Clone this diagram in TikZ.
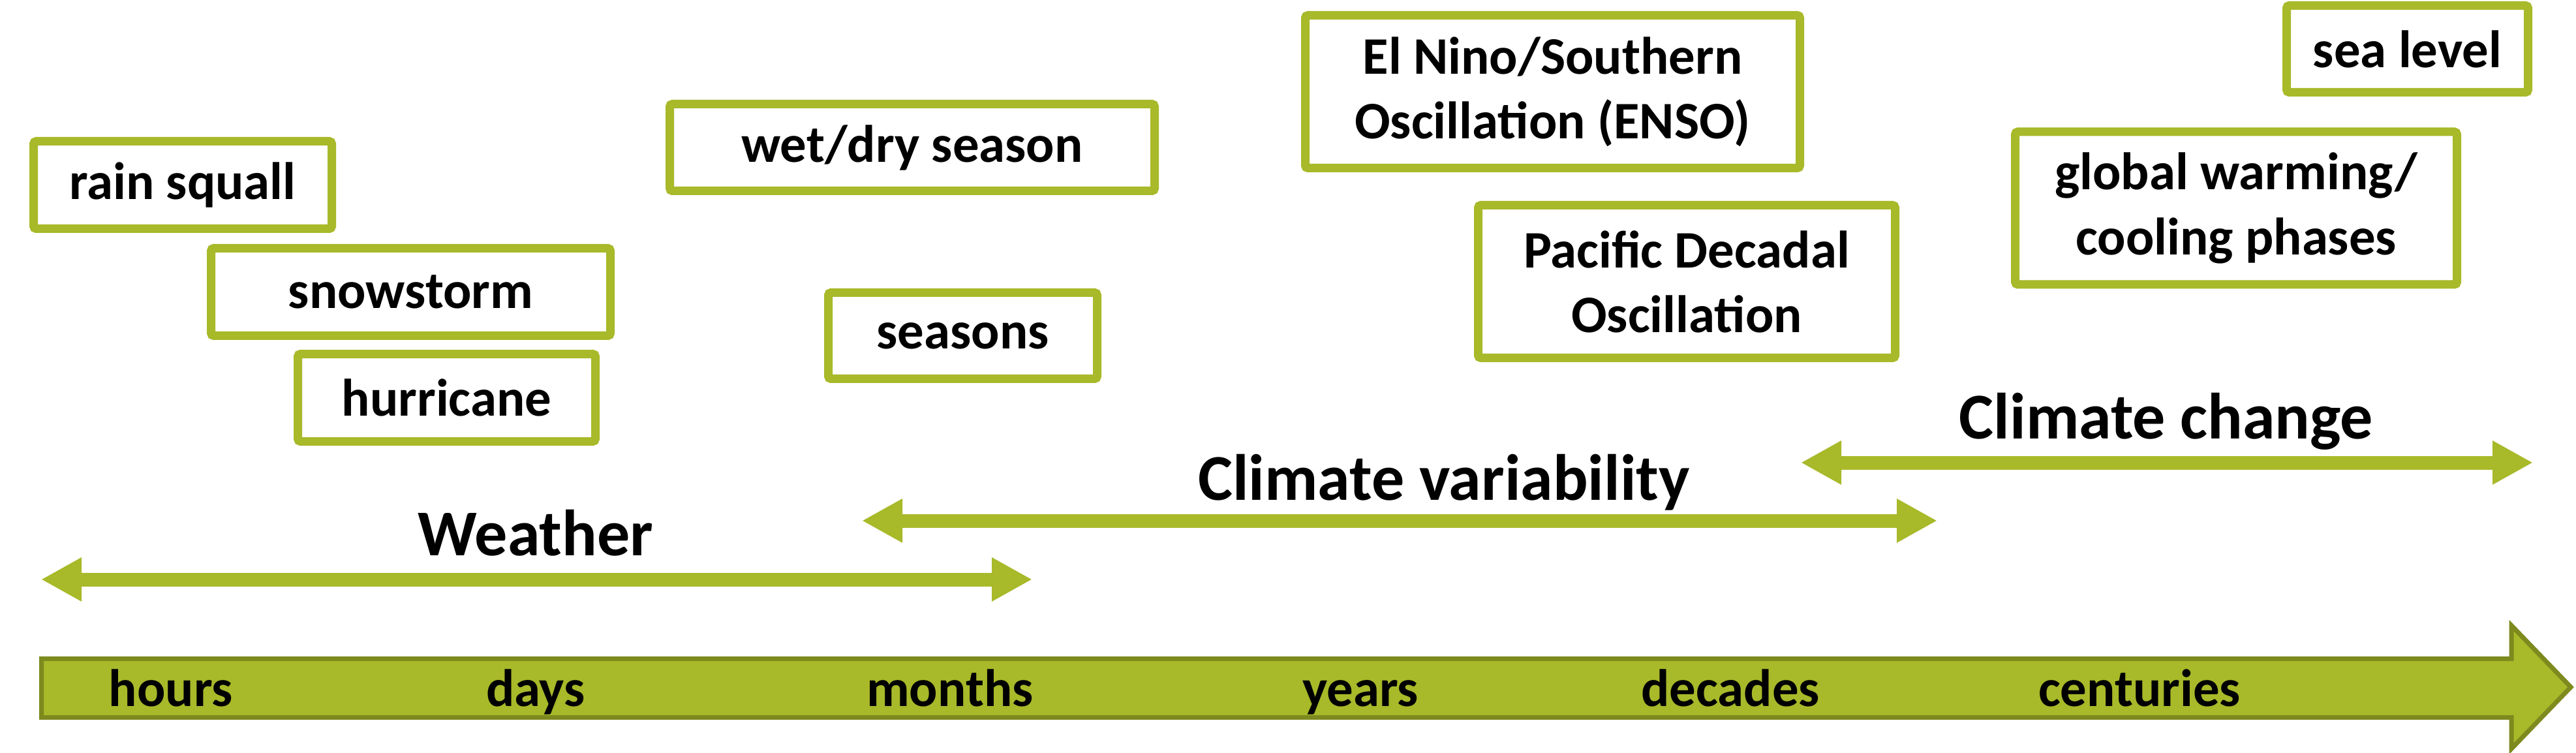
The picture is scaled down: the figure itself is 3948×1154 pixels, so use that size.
\documentclass[tikz,border=0pt]{standalone}
\usepackage{fontspec}
\setmainfont{Carlito}
\usepackage{tikz}
\usetikzlibrary{arrows.meta, positioning}
\definecolor{leaf}{RGB}{168,185,41}
\definecolor{leafdark}{RGB}{125,138,30}

\begin{document}
\begin{tikzpicture}[
    x=0.1mm, y=-0.1mm,
    font=\bfseries\fontsize{23}{28.2}\selectfont,
    every node/.style={align=center},
    ev/.style   ={rectangle, rounded corners=0.4mm, draw=leaf, line width=1.3mm,
                  fill=white, inner sep=0pt, minimum height=13.4mm},
    evtall/.style={ev, minimum height=23.4mm},
    head/.style ={font=\bfseries\fontsize{28.5}{34}\selectfont, anchor=base},
    tick/.style ={anchor=base},
    span/.style ={<->, >={Triangle[length=6.2mm, width=6.3mm]},
                  line width=2.1mm, draw=leaf}
]
\useasboundingbox (0,0) rectangle (3948,1154);

% Time axis
\draw[fill=leaf, draw=leafdark, line width=0.7mm]
    (63.5,1009.5) -- (3849,1009.5) -- (3849,958.5) -- (3940,1053)
    -- (3849,1147.5) -- (3849,1099.5) -- (63.5,1099.5) -- cycle;
\node[tick] (hours)     at (262,1082)  {hours};
\node[tick] (days)      at (821,1082)  {days};
\node[tick] (months)    at (1456,1082) {months};
\node[tick] (years)     at (2085,1082) {years};
\node[tick] (decades)   at (2652,1082) {decades};
\node[tick] (centuries) at (3279,1082) {centuries};

% Ranges
\coordinate (wL) at (63,888);    \coordinate (wR) at (1582,888);
\coordinate (vL) at (1321,798);  \coordinate (vR) at (2969,798);
\coordinate (cL) at (2760,709);  \coordinate (cR) at (3882,709);
\draw[span] (wL) -- (wR);
\draw[span] (vL) -- (vR);
\draw[span] (cL) -- (cR);
\node[head] (weather)  at (821,851)  {Weather};
\node[head] (variab)   at (2213,766) {Climate variability};
\node[head] (change)   at (3320,672) {Climate change};

% Weather events
\node[ev, minimum width=45.7mm] (squall)    at (280,283.5)  {rain squall};
\node[ev, minimum width=61.2mm] (snow)      at (629.5,447.5) {snowstorm};
\node[ev, minimum width=45.6mm] (hurricane) at (684.5,609.5) {hurricane};

% Seasonal
\node[ev, minimum width=74.3mm, minimum height=13.3mm] (wetdry)  at (1398,226)    {wet/dry season};
\node[ev, minimum width=41.2mm, minimum height=13.2mm] (seasons) at (1475.5,514.5) {seasons};

% Oscillations
\node[evtall, minimum width=75.8mm] (enso) at (2379.5,140.5) {El Nino/Southern\\Oscillation (ENSO)};
\node[evtall, minimum width=63.9mm] (pdo)  at (2585,431.5)   {Pacific Decadal\\Oscillation};

% Long term
\node[evtall, minimum width=67.7mm] (warming) at (3427,319) {global warming/\\cooling phases};
\node[ev, minimum width=37mm, minimum height=13.3mm] (sealevel) at (3689.5,75) {sea level};
\end{tikzpicture}
\end{document}
